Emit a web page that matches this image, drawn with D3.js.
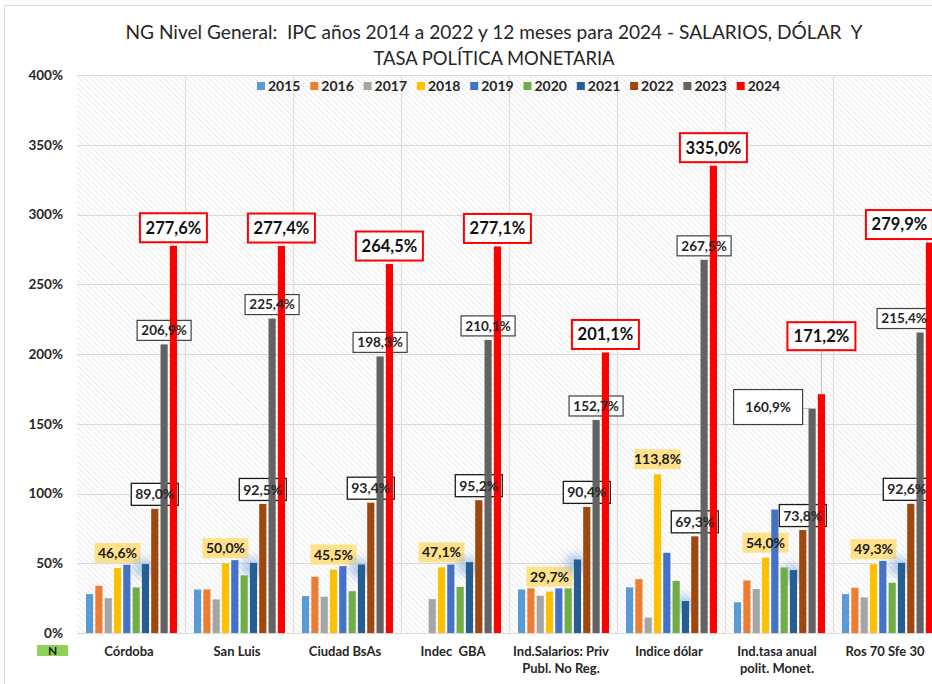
<!DOCTYPE html>
<html>
<head>
<meta charset="utf-8">
<script src="https://cdn.jsdelivr.net/npm/d3@7"></script>
<style>
  html, body { margin: 0; padding: 0; background: #fff; }
  svg { display: block; }
  text { font-family: Lato, "Open Sans", sans-serif; white-space: pre; }
</style>
</head>
<body>
<svg id="chart" width="932" height="684"></svg>
<script>
// ---------------- DATA ----------------
const categories = ["Córdoba", "San Luis", "Ciudad BsAs", "Indec  GBA",
  "Ind.Salarios: Priv\nPubl. No Reg.", "Indice dólar", "Ind.tasa anual\npolit. Monet.", "Ros 70 Sfe 30"];
const years = ["2015", "2016", "2017", "2018", "2019", "2020", "2021", "2022", "2023", "2024"];
const colors = ["#5B9BD5", "#ED7D31", "#A5A5A5", "#FFC000", "#4472C4", "#70AD47", "#255E91", "#9E480E", "#636363", "#FF0000"];

const v2015 = [27.9, 31.2, 26.5, null, 31.2, 32.7, 22.0, 27.9];
const v2016 = [33.9, 31.2, 40.3, null, 32.0, 38.6, 37.7, 32.4];
const v2017 = [25.0, 24.1, 26.0, 24.3, 26.7, 11.0, 31.5, 25.5];
const v2018 = [46.6, 50.0, 45.5, 47.1, 29.7, 113.8, 54.0, 49.3];
const v2019 = [48.9, 52.2, 47.9, 49.1, 32.0, 57.5, 88.5, 51.7];
const v2020 = [32.7, 41.3, 30.0, 33.1, 32.0, 37.4, 47.0, 36.0];
const v2021 = [49.4, 50.3, 49.1, 50.8, 52.7, 22.9, 45.1, 50.3];
const v2022 = [89.0, 92.5, 93.4, 95.2, 90.4, 69.3, 73.8, 92.6];
const v2023 = [206.9, 225.4, 198.3, 210.1, 152.7, 267.5, 160.9, 215.4];
const v2024 = [277.6, 277.4, 264.5, 277.1, 201.1, 335.0, 171.2, 279.9];
const seriesValues = [v2015, v2016, v2017, v2018, v2019, v2020, v2021, v2022, v2023, v2024];

const yTicks = [0, 50, 100, 150, 200, 250, 300, 350, 400];
const labeledYears = ["2018", "2022", "2023", "2024"];
const titleLines = ["NG Nivel General:  IPC años 2014 a 2022 y 12 meses para 2024 - SALARIOS, DÓLAR  Y",
                    "TASA POLÍTICA MONETARIA"];

// ---------------- LAYOUT ----------------
const svg = d3.select("#chart");
const plot = { left: 77, right: 941, top: 75, bottom: 633 };

const x0 = d3.scaleBand().domain(categories).range([plot.left, plot.right]).padding(0);
const x1 = d3.scaleBand().domain(years).range([9, x0.bandwidth() - 8]).paddingInner(0.23).paddingOuter(0);
const y = d3.scaleLinear().domain([0, 400]).range([plot.bottom, plot.top]);
const color = d3.scaleOrdinal().domain(years).range(colors);

const fmt = v => v.toFixed(1).replace(".", ",") + "%";

const defs = svg.append("defs");
const pat = defs.append("pattern").attr("id", "hatch").attr("patternUnits", "userSpaceOnUse")
  .attr("width", 4).attr("height", 4).attr("patternTransform", "rotate(-45)");
pat.append("rect").attr("width", 4).attr("height", 4).attr("fill", "#ffffff");
pat.append("line").attr("x1", 0).attr("y1", 0).attr("x2", 0).attr("y2", 4)
  .attr("stroke", "#e4e4e4").attr("stroke-width", 1.6);
const glow = defs.append("filter").attr("id", "glow").attr("x", "-100%").attr("y", "-100%").attr("width", "300%").attr("height", "300%");
glow.append("feGaussianBlur").attr("stdDeviation", 4);

// outer frame
svg.append("rect").attr("x", 4.5).attr("y", 5.5).attr("width", 960).attr("height", 720)
  .attr("fill", "#fff").attr("stroke", "#d9d9d9");

// title
titleLines.forEach((t, i) => {
  svg.append("text").attr("x", 494).attr("y", 39 + i * 26).attr("text-anchor", "middle")
    .attr("xml:space", "preserve")
    .attr("font-size", 19).attr("fill", "#262626")
    .attr("textLength", i === 0 ? 737 : 241).attr("lengthAdjust", "spacingAndGlyphs")
    .text(t);
});

// plot background
svg.append("rect").attr("x", plot.left).attr("y", plot.top)
  .attr("width", plot.right - plot.left).attr("height", plot.bottom - plot.top)
  .attr("fill", "url(#hatch)");

// gridlines
svg.append("g").selectAll("line").data(yTicks).join("line")
  .attr("x1", plot.left).attr("x2", plot.right)
  .attr("y1", d => Math.round(y(d)) + 0.5).attr("y2", d => Math.round(y(d)) + 0.5)
  .attr("stroke", "#d9d9d9").attr("stroke-width", 1.2);
svg.append("g").selectAll("line").data(categories.slice(1)).join("line")
  .attr("x1", d => Math.round(x0(d)) + 0.5).attr("x2", d => Math.round(x0(d)) + 0.5)
  .attr("y1", plot.top).attr("y2", plot.bottom)
  .attr("stroke", "#e6dcd6").attr("stroke-width", 1.2);

// y axis
const yAxis = d3.axisLeft(y).tickValues(yTicks).tickFormat(d => d + "%").tickSize(0).tickPadding(0);
const gy = svg.append("g").attr("transform", "translate(63,0)").call(yAxis);
gy.select(".domain").remove();
gy.selectAll("text").attr("font-size", 13.5).attr("font-weight", "bold").attr("fill", "#262626")
  .attr("font-family", "Lato, sans-serif");

// x axis labels
const xAxis = d3.axisBottom(x0).tickSize(0).tickFormat("");
const gx = svg.append("g").attr("transform", `translate(0,${plot.bottom})`).call(xAxis);
gx.select(".domain").remove();
gx.selectAll(".tick").each(function(d) {
  const lines = d.split("\n");
  const t = d3.select(this).append("text").attr("text-anchor", "middle")
    .attr("font-size", 13).attr("font-weight", "bold").attr("fill", "#262626")
    .attr("font-family", "Lato, sans-serif").attr("xml:space", "preserve");
  lines.forEach((ln, i) => t.append("tspan").attr("x", -2).attr("y", 23 + i * 17).text(ln));
});

// "N" box
svg.append("rect").attr("x", 37).attr("y", 645).attr("width", 31).attr("height", 11).attr("fill", "#8FD05A");
svg.append("text").attr("x", 52.5).attr("y", 655).attr("text-anchor", "middle")
  .attr("font-size", 12).attr("font-weight", "bold").attr("fill", "#1a1a1a").text("N");

// legend
const leg = svg.append("g").attr("transform", "translate(257,82)");
years.forEach((yr, i) => {
  const g = leg.append("g").attr("transform", `translate(${i * 53.3},0)`);
  g.append("rect").attr("width", 8).attr("height", 8).attr("fill", color(yr));
  g.append("text").attr("x", 11).attr("y", 9).attr("font-size", 14).attr("font-weight", "bold")
    .attr("fill", "#262626").text(yr);
});

// label styles (presentation)
const labelStyle = {
  "2018": { fill: "#FFE189", stroke: "none", sw: 0, w: 46, h: 20, dy: -15, fs: 14, tc: "#1a1a1a" },
  "2022": { fill: "#ffffff", stroke: "#1a1a1a", sw: 1.3, w: 47, h: 22, dy: -14.5, fs: 14, tc: "#262626" },
  "2023": { fill: "#ffffff", stroke: "#404040", sw: 1.2, w: 54, h: 20, dy: -14, fs: 13.5, tc: "#262626" },
  "2024": { fill: "#ffffff", stroke: "#ff0000", sw: 2, w: 67, h: 29, dy: -18, fs: 16.5, tc: "#111111" }
};
// manual label placements (presentation)
const labelAdjust = {
  "6|2023": { dx: -44, dy: -1.5, w: 69, h: 35, leader: "h" },
  "6|2024": { dx: 0, dy: -58, w: 68, h: 28, leader: "v" },
  "7|2024": { dx: -30 },
  "7|2023": { dx: -16 },
  "7|2022": { dx: -4 }
};

const labels = [];
categories.forEach((c, ci) => {
  labeledYears.forEach(yr => {
    const yi = years.indexOf(yr);
    const v = seriesValues[yi][ci];
    if (v == null) return;
    const st = labelStyle[yr];
    const adj = labelAdjust[ci + "|" + yr] || {};
    const bx = x0(c) + x1(yr) + x1.bandwidth() / 2;
    const by = y(v);
    labels.push({
      v, st, adj, bx, by,
      cx: bx + (adj.dx || 0), cy: by + (adj.dy !== undefined ? adj.dy : st.dy),
      w: adj.w || st.w, h: adj.h || st.h
    });
  });
});

// leader lines
const lg = svg.append("g");
labels.forEach(l => {
  if (l.adj.leader === "h") {
    lg.append("line").attr("x1", l.cx + l.w / 2).attr("x2", l.bx - 3).attr("y1", l.by).attr("y2", l.by)
      .attr("stroke", "#bfbfbf").attr("stroke-width", 1);
  } else if (l.adj.leader === "v") {
    lg.append("line").attr("x1", l.bx).attr("x2", l.bx).attr("y1", l.cy + l.h / 2).attr("y2", l.by)
      .attr("stroke", "#bfbfbf").attr("stroke-width", 1);
  }
});

// label boxes (under bars)
svg.append("g").selectAll("rect").data(labels).join("rect")
  .attr("x", d => d.cx - d.w / 2).attr("y", d => d.cy - d.h / 2)
  .attr("width", d => d.w).attr("height", d => d.h)
  .attr("fill", d => d.st.fill).attr("stroke", d => d.st.stroke).attr("stroke-width", d => d.st.sw);

// glow behind 2021 bars
svg.append("g").selectAll("ellipse").data(categories).join("ellipse")
  .attr("cx", (c) => x0(c) + x1("2021") + x1.bandwidth() / 2 - 2)
  .attr("cy", (c, i) => y(v2021[i]) + 4)
  .attr("rx", 11).attr("ry", 10)
  .attr("fill", "#7fa9de").attr("opacity", 0.55).attr("filter", "url(#glow)");

// bars
const barsG = svg.append("g");
years.forEach((yr, yi) => {
  barsG.append("g").selectAll("rect")
    .data(categories.map((c, ci) => ({ c, v: seriesValues[yi][ci] })).filter(d => d.v != null))
    .join("rect")
    .attr("x", d => x0(d.c) + x1(yr))
    .attr("y", d => y(d.v))
    .attr("width", x1.bandwidth())
    .attr("height", d => y(0) - y(d.v))
    .attr("fill", color(yr));
});

// label texts (over bars)
svg.append("g").selectAll("text").data(labels).join("text")
  .attr("x", d => d.cx).attr("y", d => d.cy)
  .attr("dy", "0.36em").attr("text-anchor", "middle")
  .attr("font-size", d => d.st.fs).attr("font-weight", "bold").attr("fill", d => d.st.tc)
  .text(d => fmt(d.v));
</script>
</body>
</html>
